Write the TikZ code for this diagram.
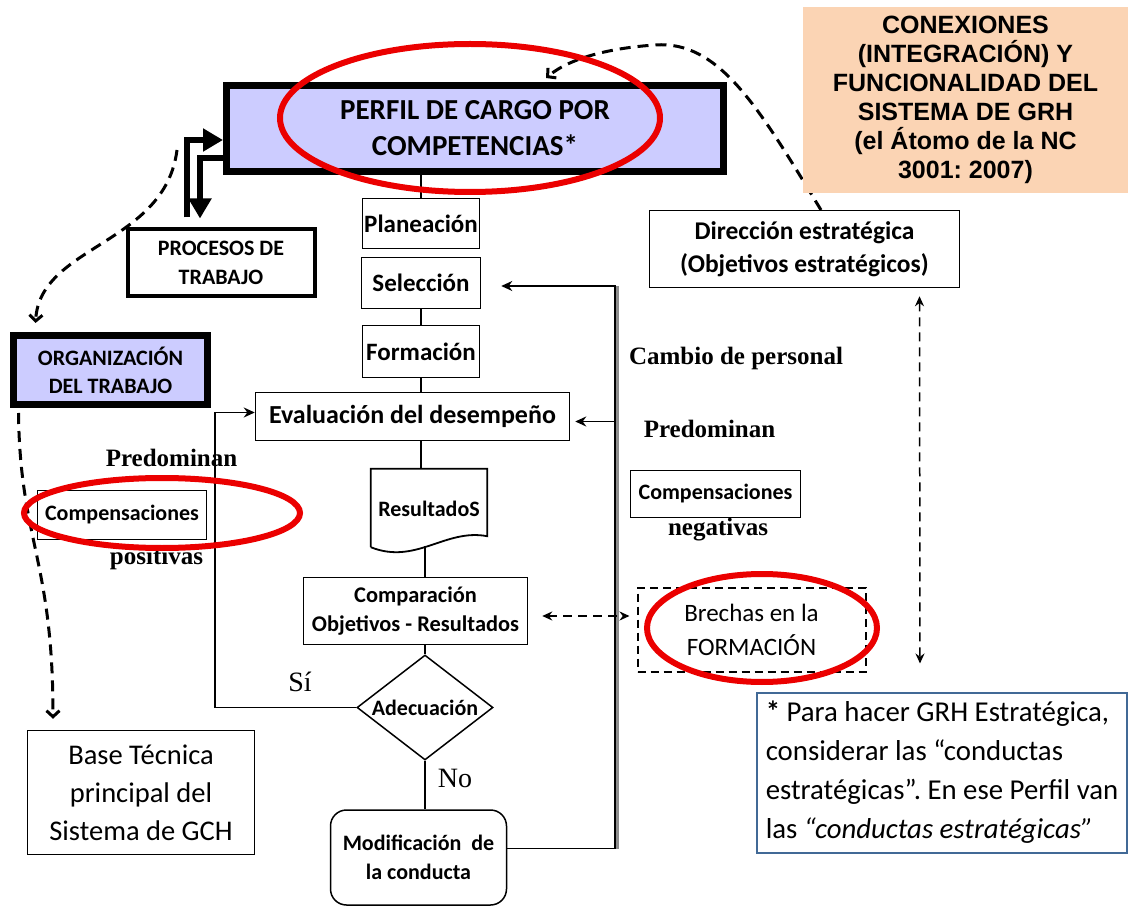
\documentclass[tikz,border=0pt]{standalone}
\usepackage{fontspec}
\setmainfont{Carlito}
\newfontfamily\arialf{Liberation Sans}
\newfontfamily\timesf{Liberation Serif}
\usetikzlibrary{arrows.meta,shapes.geometric}
\frenchspacing

\definecolor{lila}{RGB}{204,204,255}
\definecolor{durazno}{RGB}{251,212,180}
\definecolor{rojo}{RGB}{235,0,0}
\definecolor{azulnota}{RGB}{65,105,150}
\newcommand\tam[2]{\fontsize{#1}{#2}\selectfont}

\begin{document}
\begin{tikzpicture}[x=1pt, y=-1pt, line join=miter,
  caja/.style={draw, line width=1.5pt, fill=white, inner sep=0pt, align=center, font=\bfseries\tam{25}{29}},
  cajagruesa/.style={caja, line width=7pt, fill=lila},
  etiq/.style={inner sep=0pt, font=\timesf\bfseries\tam{25}{30}},
  linea/.style={line width=1.8pt},
  flecha/.style={linea, -{Stealth[length=11pt,width=10pt]}},
  flechagruesa/.style={line width=6pt, -{Triangle[length=20pt,width=22pt]}},
  disc/.style={line width=3pt, dash pattern=on 11pt off 7pt, -{Straight Barb[length=6pt,width=13pt]}},
  discfina/.style={line width=1.8pt, dash pattern=on 9pt off 6pt},
  ovalo/.style={draw=rojo, line width=6pt}]

  % ── bordes de la figura ──
  \path[use as bounding box] (0,0) rectangle (1128,909);
  \coordinate (rielsi) at (215,0);
  \coordinate (riel) at (615,0);

  % ── curvas discontinuas (debajo de las cajas) ──
  \coordinate (inicioizq) at (177,150);
  \coordinate (iniciodir) at (821,210);

  % ── cajas ──
  \node[cajagruesa, minimum width=497, minimum height=86, font=\bfseries\tam{29}{36}] (perfil) at (475,128.5) {PERFIL DE CARGO POR\\COMPETENCIAS*};

  \node[caja, minimum width=117, minimum height=50] (plan) at (421,223.5) {Planeación};
  \node[caja, minimum width=119, minimum height=51] (sel) at (421,283) {Selección};
  \node[caja, minimum width=117, minimum height=52] (form) at (421,351.5) {Formación};
  \node[caja, minimum width=314, minimum height=48, font=\bfseries\tam{26}{29}] (eval) at (412.5,416.5) {Evaluación del desempeño};
  \node[inner sep=0pt, minimum width=116, minimum height=80, font=\bfseries\tam{22}{26}] (res) at (429,509) {ResultadoS};
  \node[caja, minimum width=224, minimum height=67, font=\bfseries\tam{22.4}{29}] (comp) at (415.5,611) {Comparación\\Objetivos - Resultados};
  \node[caja, diamond, minimum width=136, minimum height=105] (adec) at (425,707.5) {};
  \node[inner sep=0pt, font=\bfseries\tam{22}{26}] (adectexto) at (adec) {Adecuación};
  \node[caja, rounded corners=16pt, minimum width=176, minimum height=95, font=\bfseries\tam{22}{29}] (modif) at (418.5,857.5) {Modificación~ de\\la conducta};

  \node[caja, line width=4pt, minimum width=187, minimum height=67, font=\bfseries\tam{22}{29}] (proc) at (221,263) {PROCESOS DE\\TRABAJO};
  \node[cajagruesa, minimum width=194, minimum height=69, font=\bfseries\tam{22}{28}] (org) at (110.5,370) {ORGANIZACIÓN\\DEL TRABAJO};
  \node[caja, minimum width=227, minimum height=124, font=\tam{28.5}{38}] (base) at (141,792.5) {Base Técnica\\principal del\\Sistema de GCH};
  \node[etiq] (predizq) at (171.5,458) {Predominan};
  \node[caja, minimum width=169, minimum height=49, font=\bfseries\tam{22}{26}] (comppos) at (122,515) {Compensaciones};
  \node[etiq] (positivas) at (156.5,558) {positivas};

  \node[caja, minimum width=310, minimum height=77, font=\bfseries\tam{25.5}{33}] (dir) at (804.5,249) {Dirección estratégica\\(Objetivos estratégicos)};
  \node[etiq] (cambio) at (736,358) {Cambio de personal};
  \node[etiq] (predder) at (709.5,429) {Predominan};
  \node[caja, minimum width=170, minimum height=47, font=\bfseries\tam{22}{26}] (compneg) at (715.5,494) {Compensaciones};
  \node[etiq] (negativas) at (718,530) {negativas};
  \node[caja, line width=2pt, dash pattern=on 8pt off 5pt, minimum width=228, minimum height=84, font=\tam{25}{34}] (brechas) at (751.5,629.5) {Brechas en la\\FORMACIÓN};

  \node[etiq, font=\timesf\tam{28}{30}] (si) at (300,682) {Sí};
  \node[etiq, font=\timesf\tam{28}{30}] (no) at (455,778) {No};

  % ── documento "ResultadoS": borde inferior ondulado ──
  \draw[linea] ([shift={(0,-2)}]res.south west) -- (res.north west) -- (res.north east) -- ([shift={(0,-13)}]res.south east)
    .. controls +(-42,-8) and +(45,18) .. ([shift={(0,-2)}]res.south west);

  % ── curvas discontinuas ──
  \draw[disc] (inicioizq) .. controls (165,245) and (40,245) .. ([shift={(-75,-9)}]org.north);
  \draw[disc] ([shift={(-92,5)}]org.south) .. controls (20,540) and (53,560) .. ([shift={(-88,-11)}]base.north);
  \draw[disc] (iniciodir) .. controls (760,110) and (720,40) .. (655,45)
    .. controls (610,48) and (570,58) .. ([shift={(71,-4)}]perfil.north);

  % ── título ──
  \node[fill=durazno, minimum width=325, minimum height=186, inner sep=0pt, align=center, font=\arialf\bfseries\tam{25}{29}] (titulo) at (965.5,100) {CONEXIONES\\(INTEGRACIÓN) Y\\FUNCIONALIDAD DEL\\SISTEMA DE GRH\\(el Átomo de la NC\\3001: 2007)};

  % ── nota ──
  \node[draw=azulnota, line width=2pt, minimum width=370, minimum height=160, inner sep=0pt, align=left, font=\tam{28.8}{39}] (nota) at (942,772.5)
    {\textbf{*} Para hacer GRH Estratégica,\\considerar las “conductas\\estratégicas”. En ese Perfil van\\las \textit{“conductas estratégicas”}};

  % ── flechas gruesas perfil / procesos ──
  \draw[flechagruesa] ([shift={(-34,-10)}]proc.north) |- ([shift={(0,11.5)}]perfil.west);
  \draw[flechagruesa] ([shift={(0,30)}]perfil.west) -| ([shift={(-21,-9)}]proc.north);

  % ── columna central ──
  \draw[linea] (perfil.south -| plan.north) -- (plan.north);
  \draw[linea] (sel.south) -- (form.north);
  \draw[linea] (form.south) -- (form.south |- eval.north);
  \draw[linea] (eval.south -| form.south) -- (res.north -| form.south);
  \draw[linea] ([shift={(0,-3)}]res.south -| adec.north) -- (comp.north -| adec.north);
  \draw[linea] (comp.south -| adec.north) -- (adec.north);
  \draw[linea] (adec.south) -- (adec.south |- modif.north);

  % ── lazo "Sí" ──
  \draw[flecha] (adec.west) -- (adec.west -| rielsi) |- ([shift={(0,-4)}]eval.west);

  % ── retorno por el riel ──
  \coordinate (flechasel) at ([shift={(20,3)}]sel.east);
  \coordinate (flechaeval) at ([shift={(5,5)}]eval.east);
  \coordinate (flechamod) at ([shift={(0,-9)}]modif.east);
  \draw[line width=3pt, black!45] ([xshift=2.5pt]flechamod -| riel) -- ([xshift=2.5pt]riel |- flechasel);
  \draw[flecha] (flechamod) -| (riel |- flechasel) -- (flechasel);
  \draw[flecha] (riel |- flechaeval) -- (flechaeval);

  % ── discontinuas rectas ──
  \draw[discfina, {Stealth[length=10pt,width=9pt]}-{Stealth[length=10pt,width=9pt]}] ([shift={(14,5)}]comp.east) -- ([shift={(-7,-13.5)}]brechas.west);
  \draw[discfina, line width=1.5pt, {Stealth[length=10pt,width=9pt]}-{Stealth[length=10pt,width=9pt]}] ([shift={(115,8)}]dir.south) -- ([shift={(-22,-28)}]nota.north);

  % ── óvalos rojos ──
  \draw[ovalo] (470,118) ellipse [x radius=190, y radius=74];
  \draw[ovalo] (162,513) ellipse [x radius=138, y radius=35];
  \draw[ovalo] (762,628) ellipse [x radius=115, y radius=54];
\end{tikzpicture}
\end{document}
